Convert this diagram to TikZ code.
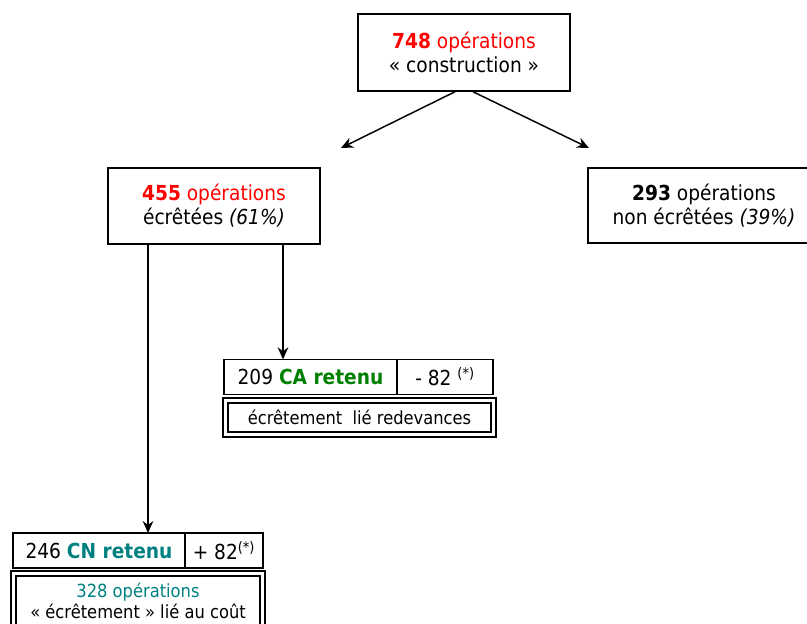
\documentclass[tikz,border=0pt]{standalone}
\usepackage{fontspec}
\setmainfont{DejaVu Sans Condensed}
\usepackage{xcolor}
\usepackage{tikz}
\usetikzlibrary{arrows,arrows.meta,positioning}

\definecolor{rouge}{RGB}{255,0,0}
\definecolor{vert}{RGB}{0,128,0}
\definecolor{sarcelle}{RGB}{0,128,128}

\begin{document}
\begin{tikzpicture}[x=0.75pt, y=-0.75pt, node distance=0pt,
    box/.style={rectangle, draw, line width=1.1pt, align=center, inner sep=0pt, font=\fontsize{15.5}{18}\selectfont},
    cell/.style={rectangle, draw, line width=1.1pt, inner sep=0pt, outer sep=0pt, minimum height=26.5pt, font=\fontsize{15.5}{18}\selectfont},
    dbox/.style={rectangle, draw, line width=1.3pt, double, double distance=2.3pt, align=center, inner sep=0pt, font=\fontsize{13.6}{15.5}\selectfont},
    arrow/.style={-{Stealth[length=9pt,width=8pt]}, line width=1.1pt}]

    \path[use as bounding box, clip] (0,0) rectangle (807,624);

    \node[box, minimum width=159pt, minimum height=57.75pt] (construction) at (464,52.5)
        {{\color{rouge}\textbf{748} opérations}\\ « construction »};
    \node[box, minimum width=159pt, minimum height=57pt] (ecretees) at (214,206)
        {{\color{rouge}\textbf{455} opérations}\\ écrêtées \textit{(61\%)}};
    \node[box, minimum width=174pt, minimum height=56.25pt] (nonecretees) at (704,205.5)
        {\textbf{293} opérations\\ non écrêtées \textit{(39\%)}};

    % redevances
    \node[cell, minimum width=129.75pt] (caretenu) at (310.5,377) {209 \textbf{\color{vert}CA retenu}};
    \node[cell, minimum width=72pt, right=of caretenu] (camoins) {- 82 \textsuperscript{(*)}};
    \node[dbox, minimum width=201pt, minimum height=25.5pt] (caredev) at (359.5,417.5)
        {écrêtement\ \ lié redevances};

    % cout
    \node[cell, minimum width=129pt, minimum height=26.25pt] (cnretenu) at (99,550.5) {246 \textbf{\color{sarcelle}CN retenu}};
    \node[cell, minimum width=58.5pt, minimum height=26.25pt, right=of cnretenu] (cnplus) {+ 82\textsuperscript{(*)}};
    \node[dbox, minimum width=186.75pt, minimum height=41.25pt] (cncout) at (138,601)
        {{\color{sarcelle}328 opérations}\\ « écrêtement » lié au coût};

    \coordinate (gauche) at (341,148);
    \coordinate (droite) at (589,148);

    \draw[arrow] ([xshift=-6.75pt]construction.south) -- (gauche);
    \draw[arrow] ([xshift=6.75pt]construction.south) -- (droite);
    \draw[arrow] ([xshift=51.75pt]ecretees.south) -- ([xshift=51.75pt]ecretees.south |- caretenu.north);
    \draw[arrow] ([xshift=-49.5pt]ecretees.south) -- ([xshift=-49.5pt]ecretees.south |- cnretenu.north);

\end{tikzpicture}
\end{document}
